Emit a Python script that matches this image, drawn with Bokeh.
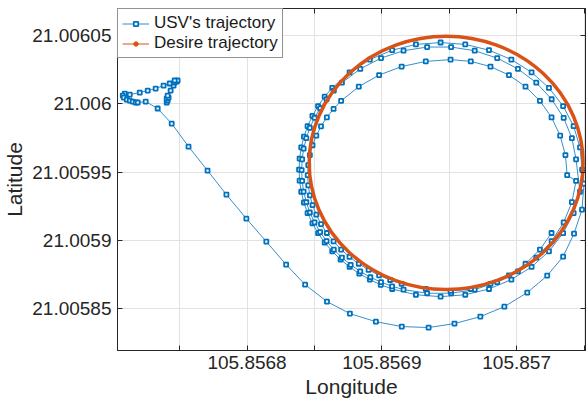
import numpy as np
from bokeh.plotting import figure
from bokeh.models import (Range1d, FixedTicker, CustomJSTickFormatter, LinearAxis,
                          Legend, LegendItem)
from bokeh.embed import file_html
from bokeh.resources import INLINE

# Reference origin; trajectory values below are offsets from it in micro-degrees
LON0 = 105.8568
LAT0 = 21.006

# start (idle cluster at top-left)
start_dlon = [-59.6, -58.9, -59.6, -58.2, -58.9, -56.7, -54.5, -53.7, -52.2, -51.5, -53.7, -57.4,
              -61.9, -67.8, -73.7, -79.6, -87.0, -90.7, -92.2, -91.4, -89.2, -87.0, -84.8, -82.6,
              -81.1, -75.2, -66.3]
start_dlat = [1.0, 2.4, 3.9, 4.6, 6.1, 9.7, 13.4, 15.6, 16.3, 17.1, 17.1, 14.9,
              13.4, 11.2, 9.7, 8.3, 6.8, 7.5, 6.1, 4.6, 3.1, 2.4, 1.7, 1.0,
              1.0, 1.7, -3.4]

# approach: diagonal run and the wide lower arc
approach_dlon = [-55.9, -43.4, -29.3, -15.3, -0.5, 14.3, 29.0, 43.1, 59.3, 76.3, 95.6, 114.8,
                 134.7, 153.9, 173.1, 190.9, 207.9, 222.7, 234.5, 242.6, 248.5, 250.0]
approach_dlat = [-14.4, -31.3, -48.8, -66.4, -84.0, -100.8, -117.6, -132.3, -144.7, -153.5, -159.4, -163.0,
                 -163.7, -160.8, -155.7, -148.4, -138.1, -125.7, -111.8, -94.9, -77.4, -58.3]

loop1_dlon = [248.6, 247.0, 242.3, 234.5, 224.0, 211.1, 196.1, 179.5, 161.9, 143.6, 125.3, 107.7,
              91.1, 76.1, 63.2, 57.6, 52.7, 48.5, 44.9, 42.2, 40.2, 39.0, 38.6, 39.0, 40.2, 42.2,
              44.9, 48.5, 52.7, 57.6, 63.2, 69.4, 76.1, 83.3, 91.1, 99.2, 107.7, 125.3, 143.6,
              161.9, 179.5, 196.1, 211.1, 224.0, 234.5, 242.3, 247.0]
loop1_dlat = [-48.1, -31.9, -16.3, -1.6, 11.7, 23.1, 32.4, 39.3, 43.5, 44.9, 43.5, 39.3,
              32.4, 23.1, 11.7, 5.3, -1.6, -8.8, -16.3, -24.0, -31.9, -40.0, -48.1, -56.2, -64.3, -72.2,
              -79.9, -87.4, -94.6, -101.5, -107.9, -113.9, -119.3, -124.3, -128.6, -132.4, -135.5, -139.7, -141.1,
              -139.7, -135.5, -128.6, -119.3, -107.9, -94.6, -79.9, -64.3]

loop2_dlon = [244.1, 241.0, 234.9, 226.0, 214.6, 201.0, 185.6, 168.9, 151.4, 133.6, 116.1, 99.4,
              84.0, 70.4, 64.4, 59.0, 54.2, 50.1, 46.6, 44.0, 42.0, 40.9, 40.5, 40.9, 42.0, 44.0,
              46.6, 50.1, 54.2, 59.0, 64.4, 70.4, 76.9, 84.0, 91.5, 99.4, 107.6, 116.1, 133.6,
              151.4, 168.9, 185.6, 201.0, 214.6, 226.0, 234.9, 241.0, 244.1]
loop2_dlat = [-40.6, -25.1, -10.2, 3.4, 15.5, 25.6, 33.5, 38.9, 41.6, 41.6, 38.9, 33.5,
              25.6, 15.5, 9.7, 3.4, -3.2, -10.2, -17.5, -25.1, -32.8, -40.6, -48.5, -56.4, -64.2, -71.9,
              -79.5, -86.8, -93.8, -100.4, -106.7, -112.5, -117.8, -122.6, -126.9, -130.5, -133.5, -135.9, -138.6,
              -138.6, -135.9, -130.5, -122.6, -112.5, -100.4, -86.8, -71.9, -56.4]

loop3_dlon = [237.5, 236.2, 232.3, 225.9, 217.3, 206.6, 194.3, 180.6, 166.0, 151.0, 132.6, 114.7,
              98.0, 82.9, 69.8, 64.2, 59.2, 54.9, 51.4, 48.6, 46.6, 45.4, 45.0, 45.4, 46.6, 48.6,
              51.4, 54.9, 59.2, 64.2, 69.8, 76.0, 82.9, 90.2, 98.0, 106.2, 114.7, 132.6, 151.0,
              166.0, 180.6, 194.3, 206.6, 217.3, 225.9]
loop3_dlat = [-52.2, -37.5, -23.3, -9.9, 2.2, 12.6, 21.1, 27.3, 31.1, 32.4, 31.1, 27.3,
              21.1, 12.6, 2.2, -3.7, -9.9, -16.4, -23.3, -30.3, -37.5, -44.8, -52.2, -59.6, -66.9, -74.1,
              -81.1, -88.0, -94.5, -100.7, -106.6, -112.0, -117.0, -121.5, -125.5, -128.9, -131.7, -135.5, -136.8,
              -135.5, -131.7, -125.5, -117.0, -106.6, -94.5]

# desired circular trajectory
desired_center_lon = 105.8569477
desired_center_lat = 21.0059568
desired_radius_lon = 0.0001016
desired_radius_lat = 0.0000927

x_labeled_ticks = [105.8568, 105.8569, 105.857]
x_minor_ticks = [105.85675, 105.85685, 105.85695, 105.85705]
x_ticks = [105.85675, 105.8568, 105.85685, 105.8569, 105.85695, 105.857, 105.85705]
y_ticks = [21.00585, 21.0059, 21.00595, 21.006, 21.00605]

dlon = start_dlon + approach_dlon + loop1_dlon + loop2_dlon + loop3_dlon
dlat = start_dlat + approach_dlat + loop1_dlat + loop2_dlat + loop3_dlat
lon = LON0 + np.array(dlon) * 1e-6
lat = LAT0 + np.array(dlat) * 1e-6

FONT = "Liberation Sans"
AX = "#262626"
BLUE = "#0072BD"
ORANGE = "#D95319"

p = figure(width=588, height=409, output_backend="svg", toolbar_location=None,
           x_range=Range1d(105.8567039, 105.8570511), y_range=Range1d(21.0058195, 21.0060698),
           min_border_left=116, min_border_right=3, min_border_top=8, min_border_bottom=59,
           background_fill_color="white", border_fill_color="white")
p.outline_line_color = AX
p.outline_line_width = 1

xfmt = CustomJSTickFormatter(code="return String(parseFloat(tick.toFixed(4)));")
yfmt = CustomJSTickFormatter(code="return String(parseFloat(tick.toFixed(5)));")

p.xaxis[0].ticker = FixedTicker(ticks=x_labeled_ticks, minor_ticks=x_minor_ticks)
p.yaxis[0].ticker = FixedTicker(ticks=y_ticks)
for ax, fmt in ((p.xaxis[0], xfmt), (p.yaxis[0], yfmt)):
    ax.formatter = fmt
    ax.major_tick_in = 5
    ax.major_tick_out = 0
    ax.minor_tick_in = 5
    ax.minor_tick_out = 0
    ax.axis_line_color = AX
    ax.major_tick_line_color = AX
    ax.minor_tick_line_color = AX
    ax.major_label_text_font = FONT
    ax.major_label_text_font_size = "19px"
    ax.major_label_text_color = AX
    ax.axis_label_text_font = FONT
    ax.axis_label_text_font_size = "21px"
    ax.axis_label_text_font_style = "normal"
    ax.axis_label_text_color = AX

p.xaxis.axis_label = "Longitude"
p.yaxis.axis_label = "Latitude"
p.xaxis.major_label_standoff = 5
p.yaxis.major_label_standoff = 6
p.xaxis.axis_label_standoff = 3
p.yaxis.axis_label_standoff = 3

for loc, tk in (("right", y_ticks), ("above", x_ticks)):
    a = LinearAxis(ticker=FixedTicker(ticks=[], minor_ticks=tk), major_tick_in=0, major_tick_out=0,
                   minor_tick_in=5, minor_tick_out=0, major_label_standoff=0,
                   axis_line_color=AX, minor_tick_line_color=AX)
    p.add_layout(a, loc)

p.xgrid.ticker = FixedTicker(ticks=x_ticks)
p.ygrid.ticker = FixedTicker(ticks=y_ticks)
p.grid.grid_line_color = "#e2e2e2"
p.grid.grid_line_width = 1

usv_line = p.line(lon, lat, line_color=BLUE, line_width=0.8)
usv_pts = p.scatter(lon, lat, marker="square", size=4, line_color=BLUE, fill_color="white",
                    line_width=1.8)

p.ellipse(x=[desired_center_lon], y=[desired_center_lat], width=[2 * desired_radius_lon],
          height=[2 * desired_radius_lat], fill_color=None, line_color=ORANGE, line_width=3.5)

# legend-only renderers (no visible data) for the desired trajectory's line+dot style
leg_line = p.line(x=[np.nan, np.nan], y=[np.nan, np.nan], line_color=ORANGE, line_width=1)
leg_dot = p.scatter(x=[np.nan], y=[np.nan], marker="circle", size=3, fill_color=ORANGE,
                    line_color=ORANGE)

legend = Legend(items=[LegendItem(label="USV's trajectory", renderers=[usv_line, usv_pts]),
                       LegendItem(label="Desire trajectory", renderers=[leg_line, leg_dot])],
                location="top_left", margin=0, padding=4, spacing=0,
                glyph_width=27, glyph_height=11, label_height=20, label_standoff=5,
                label_text_font=FONT, label_text_font_size="17px", label_text_color="#1a1a1a",
                border_line_color=AX, border_line_width=1, background_fill_color="white",
                background_fill_alpha=1)
p.add_layout(legend)

open("out.html", "w").write(file_html(p, INLINE))
